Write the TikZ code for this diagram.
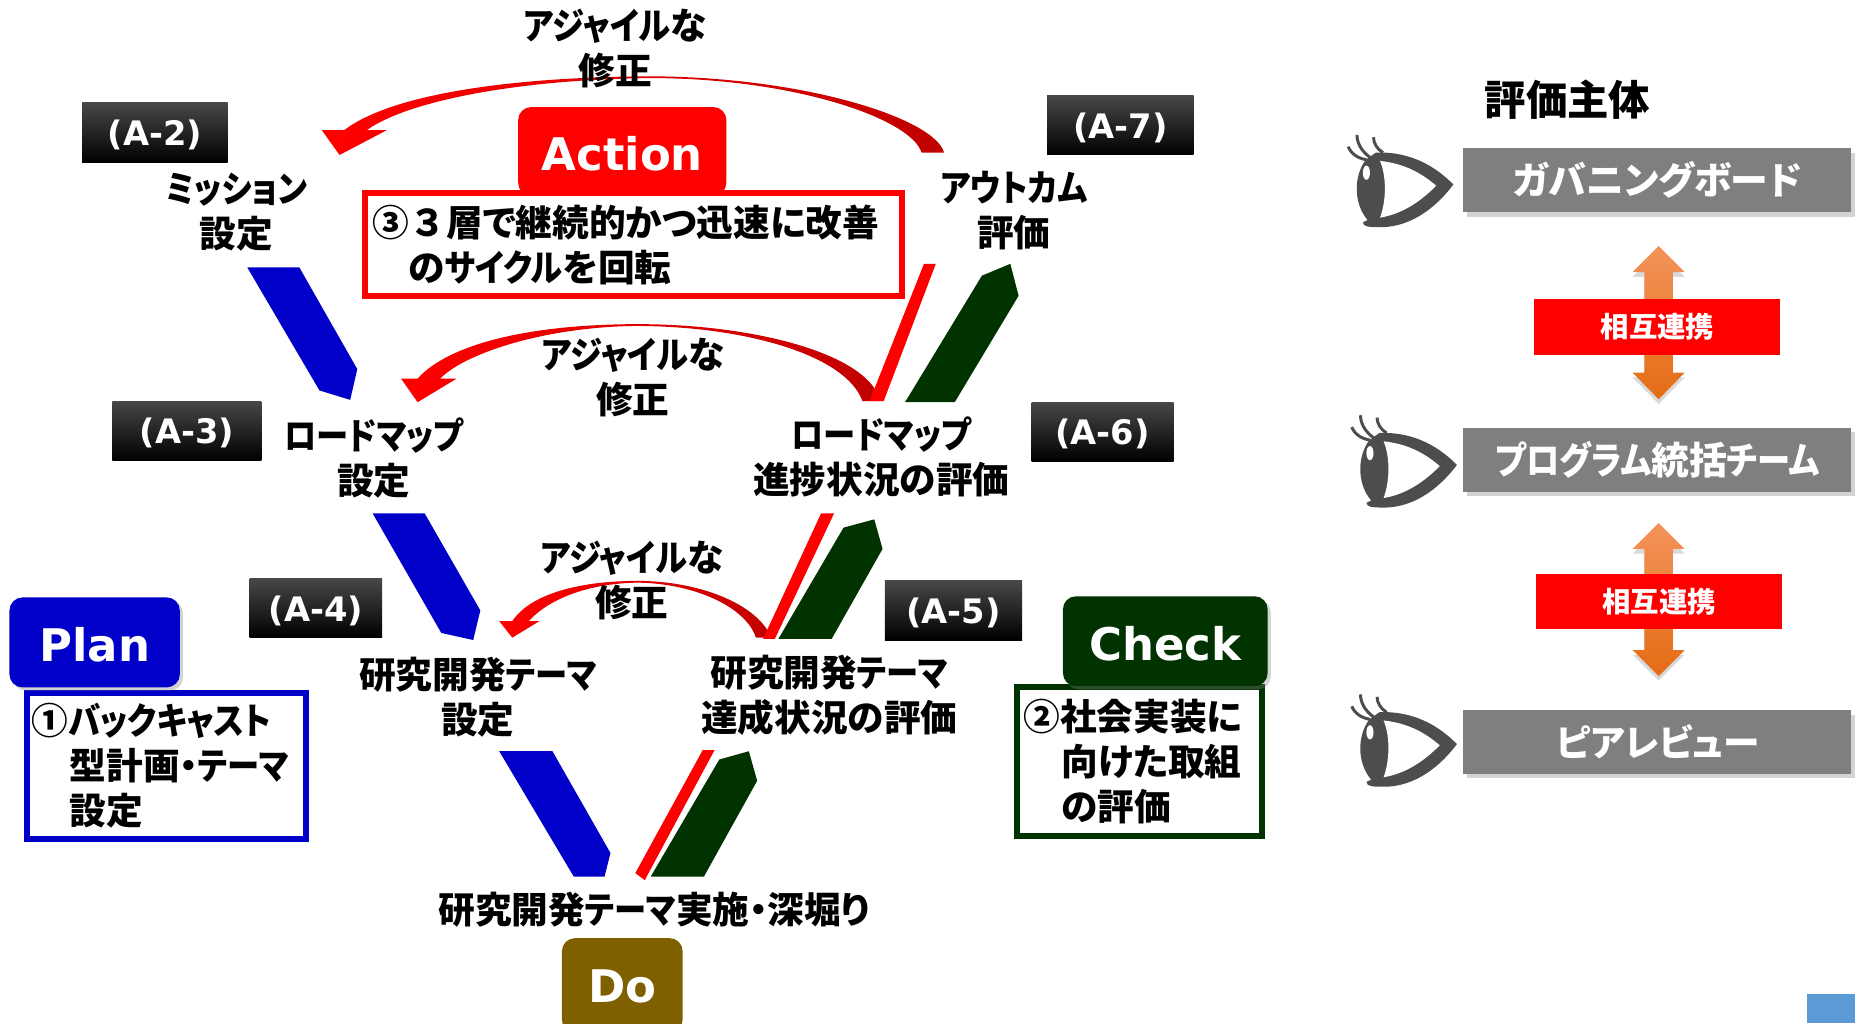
\documentclass[tikz,border=0pt]{standalone}
\usepackage{fontspec}
\setmainfont{Noto Sans CJK JP}[RawFeature=+palt]
\newfontfamily\fullfamily{Noto Sans CJK JP}
\newfontfamily\kanafamily{Noto Sans CJK JP}[RawFeature=+palt, FakeStretch=0.88]
\newfontfamily\tagfamily{DejaVu Sans}
\usetikzlibrary{shadows}

\definecolor{planblue}{HTML}{0000C8}
\definecolor{checkgreen}{HTML}{003300}
\definecolor{dobrown}{HTML}{7F6000}
\definecolor{darkred}{HTML}{C00000}
\definecolor{boardgray}{HTML}{7F7F7F}
\definecolor{eyegray}{HTML}{4D4D4D}
\definecolor{cornerblue}{HTML}{5B9BD5}
\definecolor{linktop}{HTML}{F4935A}
\definecolor{linkbottom}{HTML}{E46C14}

\newcommand{\stagefont}{\fontsize{31}{38}\selectfont\bfseries}
\newcommand{\phasefont}{\tagfamily\fontsize{38}{38}\selectfont\bfseries}
\newcommand{\kana}[1]{{\kanafamily\bfseries #1}}
\newcommand{\full}[1]{{\fullfamily\bfseries #1}}

\tikzset{
	stagelabel/.style={font=\stagefont, align=center, inner sep=0},
	tagbox/.style={minimum width=#1, minimum height=50, inner sep=0, text=white,
		text height=25.6, text depth=3.7,
		top color=black!72, middle color=black, bottom color=black,
		font=\tagfamily\fontsize{28.5}{28.5}\selectfont\bfseries},
	phasebox/.style={fill=#1, rounded corners=11, text=white, font=\phasefont, inner sep=0, text height=32, text depth=0},
	notebox/.style={draw=#1, line width=5, fill=white, font=\stagefont, align=left, inner sep=0, outer sep=0, anchor=north west},
	boardbox/.style={fill=boardgray, minimum width=328, minimum height=54, inner sep=0, text=white,
		font=\fontsize{32}{32}\selectfont\bfseries, drop shadow={opacity=.35, shadow xshift=3pt, shadow yshift=-4pt}},
	linkbox/.style={fill=red, minimum width=208, minimum height=47, inner sep=0, text=white,
		font=\fontsize{24}{24}\selectfont\bfseries},
	agile/.style={left color=red, middle color=red, right color=darkred},
	linkarrow/.style={top color=linktop, bottom color=linkbottom,
		drop shadow={opacity=.3, shadow xshift=0pt, shadow yshift=-4pt}},
	eye/.pic={
		\fill[eyegray] (89.5,42) .. controls (70,22) and (47,14) .. (24,15) -- (15.5,21)
			.. controls (5,35) and (5,58) .. (17,72) -- (13,74) .. controls (13,78) and (20,78) .. (25,78)
			.. controls (50,79) and (72,65) .. cycle;
		\fill[white] (75,43) .. controls (60,30) and (45,24) .. (27.5,22)
			.. controls (33,35) and (33,55) .. (27.5,70) .. controls (45,67) and (60,58) .. cycle;
		\fill[white] (16,32) ellipse (3 and 6);
		\draw[eyegray, line width=2.5] (0.6,10) .. controls (3,16) and (9,20) .. (16,21);
		\draw[eyegray, line width=2.5] (8,0) .. controls (8,7) and (12,14) .. (19,19);
		\draw[eyegray, line width=2.5] (22,2) .. controls (22,7) and (25,12) .. (30,15);
	}
}

\begin{document}
\begin{tikzpicture}[x=1pt, y=-1pt]
	\useasboundingbox (0,0) rectangle (1568,865);

	% agile loops
	\path[agile] (798,129) .. controls (790,100) and (680,65) .. (550,64.5)
		.. controls (430,65) and (330,80) .. (291,110) -- (272,110) -- (287,131) -- (327,110) -- (310,110)
		.. controls (345,85) and (440,67) .. (550,66) .. controls (670,66) and (770,100) .. (779,129) -- cycle;
	\path[agile] (744,339) .. controls (735,300) and (640,274) .. (539,274)
		.. controls (450,274) and (380,290) .. (353,320) -- (339,320) -- (353,340) -- (386,320) -- (372,320)
		.. controls (395,297) and (465,276) .. (539,275.5) .. controls (630,276) and (715,300) .. (729,339) -- cycle;
	\path[agile] (652,539) .. controls (640,510) and (590,491) .. (539,491)
		.. controls (495,491) and (450,500) .. (433,525) -- (422,525) -- (433,539) -- (456,525) -- (447,525)
		.. controls (465,505) and (500,493) .. (539,492.5) .. controls (585,493) and (630,512) .. (639,539) -- cycle;

	% plan side
	\fill[planblue] (209,226) -- (253,226) -- (302,312) -- (296,338) -- (270,330) -- cycle;
	\fill[planblue] (315,434) -- (359,434) -- (406,516) -- (400,541) -- (373,535) -- cycle;
	\fill[planblue] (422,635) -- (467,635) -- (516,721) -- (511,741) -- (485,741) -- cycle;

	% check side
	\fill[checkgreen] (830,233) -- (854,223) -- (861,250) -- (807,340) -- (765,340) -- cycle;
	\fill[checkgreen] (713,446) -- (739,439) -- (746,464) -- (703,540) -- (658,540) -- cycle;
	\fill[checkgreen] (608,642) -- (633,635) -- (640,660) -- (595,741) -- (550,741) -- cycle;

	% action lines
	\fill[red] (781,223) -- (791,223) -- (747,339) -- (735,339) -- cycle;
	\fill[red] (694,434) -- (705,434) -- (655,540) -- (645,540) -- cycle;
	\fill[red] (594,634) -- (604,634) -- (545,744) -- (537,738) -- cycle;

	\node[notebox=red, text width=454, minimum height=87] (actionnote) at (308.5,163.5)
		{\hspace*{6.5pt}\full{③３}層で継続的かつ迅速に改善\\\hspace*{36.5pt}の\kana{サイクル}を回転};
	\node[notebox=planblue, text width=236, minimum height=124] (plannote) at (22.5,585.5)
		{\hspace*{4.5pt}①\kana{バックキャスト}\\\hspace*{36.5pt}型計画・\kana{テーマ}\\\hspace*{36.5pt}設定};
	\node[notebox=checkgreen, text width=207, minimum height=126] (checknote) at (859.5,580.5)
		{\hspace*{5.5pt}②社会実装に\\\hspace*{37.5pt}向けた取組\\\hspace*{37.5pt}の評価};

	\node[phasebox=red, minimum width=176, minimum height=75] (action) at (526,128) {Action};
	\node[phasebox=planblue, minimum width=144, minimum height=76, drop shadow={opacity=.35}] (plan) at (80,543) {Plan};
	\node[phasebox=checkgreen, minimum width=173, minimum height=76, drop shadow={opacity=.35}] (check) at (985,542) {Check};
	\node[phasebox=dobrown, minimum width=102, minimum height=80, text height=28] (do) at (526,833) {Do};

	\node[tagbox=123] (tagA2) at (131,112) {(A-2)};
	\node[tagbox=126] (tagA3) at (158,364) {(A-3)};
	\node[tagbox=112] (tagA4) at (267,514) {(A-4)};
	\node[tagbox=116] (tagA5) at (806,516) {(A-5)};
	\node[tagbox=120] (tagA6) at (932,365) {(A-6)};
	\node[tagbox=124] (tagA7) at (947,106) {(A-7)};

	\node[stagelabel] (agileA) at (520,41) {\kana{アジャイル}な\\修正};
	\node[stagelabel] (agileB) at (535,319) {\kana{アジャイル}な\\修正};
	\node[stagelabel] (agileC) at (534,491) {\kana{アジャイル}な\\修正};
	\node[stagelabel] (mission) at (200,179) {\kana{ミッション}\\設定};
	\node[stagelabel] (outcome) at (857,178) {\kana{アウトカム}\\評価};
	\node[stagelabel] (roadmap) at (316,387) {\kana{ロードマップ}\\設定};
	\node[stagelabel] (progress) at (745,386) {\kana{ロードマップ}\\進捗状況の評価};
	\node[stagelabel] (theme) at (404,589) {研究開発\kana{テーマ}\\設定};
	\node[stagelabel] (achieve) at (701,588) {研究開発\kana{テーマ}\\達成状況の評価};
	\node[stagelabel] (deepen) at (553,769) {研究開発\kana{テーマ}実施・深堀り};

	% right column
	\node[font=\fontsize{35}{35}\selectfont\bfseries, inner sep=0] (title) at (1325,84) {評価主体};

	\pic at (1139,114) {eye};
	\pic at (1142,351) {eye};
	\pic at (1142,587) {eye};

	\node[boardbox] (board) at (1401,152) {ガバニングボード};
	\node[boardbox] (team) at (1401,388.5) {\kana{プログラム}統括\kana{チーム}};
	\node[boardbox] (peer) at (1401,627) {\fontsize{31}{31}\selectfont ピアレビュー};

	\path[linkarrow] (1402,208) -- (1424,230) -- (1414,230) -- (1414,315) -- (1424,315) -- (1402,337.5)
		-- (1380,315) -- (1390,315) -- (1390,230) -- (1380,230) -- cycle;
	\path[linkarrow] (1402,442) -- (1424,464) -- (1414,464) -- (1414,549.5) -- (1424,549.5) -- (1402,571.5)
		-- (1380,549.5) -- (1390,549.5) -- (1390,464) -- (1380,464) -- cycle;

	\node[linkbox] (linkA) at (1401,276.5) {相互連携};
	\node[linkbox] (linkB) at (1402.5,508.5) {相互連携};

	\fill[cornerblue] (1527,840) rectangle (1568,865);
\end{tikzpicture}
\end{document}
